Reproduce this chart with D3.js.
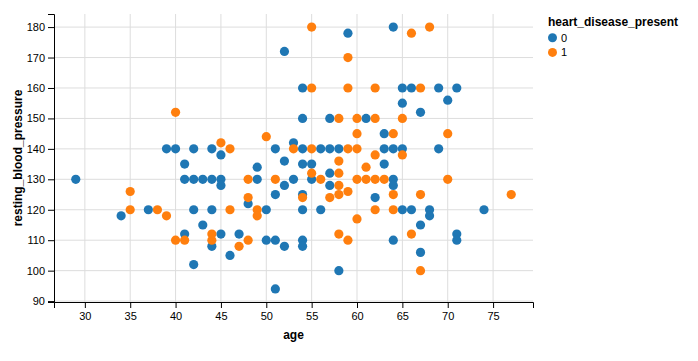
<!DOCTYPE html>
<html>
<head>
<meta charset="utf-8">
<script src="https://cdn.jsdelivr.net/npm/d3@7"></script>
<style>
  body { margin: 0; background: #fff; }
  svg { display: block; font-family: "Liberation Sans", Arial, sans-serif; }
  .grid line { stroke: #ddd; stroke-width: 1; }
</style>
</head>
<body>
<svg id="chart" width="698" height="361"></svg>
<script>
// ---- data ----
const ageBlue = [29,34,37,39,40,41,41,41,42,42,42,42,43,43,44,44,44,44,45,45,45,45,46,47,48,49,49,50,50,51,51,51,51,52,52,52,52,53,53,54,54,54,54,54,54,54,54,55,55,56,56,57,57,57,57,58,58,59,61,62,63,63,63,64,64,64,64,64,65,65,65,65,66,66,67,67,67,68,68,69,69,70,71,71,71,74];
const bpBlue  = [130,118,120,140,140,135,130,112,140,130,120,102,130,115,140,130,120,108,138,130,128,112,105,112,122,134,130,120,110,140,125,110,94,172,136,128,108,142,130,160,150,140,135,125,120,110,108,135,130,140,120,150,140,132,128,140,100,178,150,124,145,140,135,180,140,130,128,110,160,155,140,120,160,120,152,115,106,120,118,160,140,156,160,112,110,120];
const ageOrange = [35,35,38,39,40,40,41,44,44,45,46,46,47,48,48,48,49,49,50,51,53,54,55,55,55,55,56,57,58,58,58,58,58,58,59,59,59,59,59,60,60,60,60,60,61,61,62,62,62,62,62,63,64,64,64,65,65,66,66,67,67,67,68,70,70,77];
const bpOrange  = [126,120,120,118,152,110,110,112,110,142,140,120,108,130,124,110,120,118,144,130,140,124,180,160,140,132,130,124,150,136,132,128,125,112,170,160,140,126,110,150,145,140,130,117,134,130,160,150,138,130,120,130,145,125,120,150,138,178,112,160,125,100,180,145,130,125];
const classes = ["0", "1"];
const colors = ["#1f77b4", "#ff7f0e"];
const xTitle = "age";
const yTitle = "resting_blood_pressure";
const legendTitle = "heart_disease_present";

const points = [];
ageBlue.forEach((a, i) => points.push({age: a, bp: bpBlue[i], cls: "0"}));
ageOrange.forEach((a, i) => points.push({age: a, bp: bpOrange[i], cls: "1"}));

// ---- layout ----
const W = 698, H = 361;
const margin = {left: 54, top: 14, right: 165, bottom: 59};
const iw = W - margin.left - margin.right;
const ih = H - margin.top - margin.bottom;

const svg = d3.select("#chart");
const g = svg.append("g").attr("transform", `translate(${margin.left},${margin.top})`);

const allAge = points.map(d => d.age), allBp = points.map(d => d.bp);
const [aMin, aMax] = d3.extent(allAge), [bMin, bMax] = d3.extent(allBp);
const aPad = (aMax - aMin) * 0.05, bPad = (bMax - bMin) * 0.05;

const x = d3.scaleLinear().domain([aMin - aPad, aMax + aPad]).range([0, iw]);
const y = d3.scaleLinear().domain([bMin - bPad, bMax + bPad]).range([ih, 0]);
const color = d3.scaleOrdinal().domain(classes).range(colors);

// grid
g.append("g").attr("class", "grid")
  .selectAll("line.v").data(x.ticks()).join("line")
  .attr("x1", d => x(d)).attr("x2", d => x(d)).attr("y1", 0).attr("y2", ih);
g.append("g").attr("class", "grid")
  .selectAll("line.h").data(y.ticks()).join("line")
  .attr("y1", d => y(d)).attr("y2", d => y(d)).attr("x1", 0).attr("x2", iw);

// axes
const xAxis = g.append("g").attr("transform", `translate(0,${ih})`).call(d3.axisBottom(x).tickPadding(4));
const yAxis = g.append("g").call(d3.axisLeft(y));
[xAxis, yAxis].forEach(a => {
  a.selectAll("text").attr("font-size", 11).attr("fill", "#000").attr("font-family", "Liberation Sans, Arial, sans-serif");
  a.selectAll("path, line").attr("stroke", "#000");
});

// points
g.append("g").selectAll("circle").data(points).join("circle")
  .attr("cx", d => x(d.age)).attr("cy", d => y(d.bp)).attr("r", 4.6)
  .attr("fill", d => color(d.cls));

// titles
svg.append("text").attr("x", margin.left + iw / 2).attr("y", 339)
  .attr("text-anchor", "middle").attr("font-size", 12).attr("font-weight", "bold").text(xTitle);
svg.append("text").attr("transform", `translate(22,${margin.top + ih / 2}) rotate(-90)`)
  .attr("text-anchor", "middle").attr("font-size", 12).attr("font-weight", "bold").text(yTitle);

// legend
const lg = svg.append("g").attr("transform", "translate(548,0)");
lg.append("text").attr("x", 0).attr("y", 26).attr("font-size", 12).attr("font-weight", "bold").text(legendTitle);
const items = lg.selectAll("g.item").data(classes).join("g")
  .attr("transform", (d, i) => `translate(0,${37.7 + i * 14.7})`);
items.append("circle").attr("cx", 4.5).attr("cy", 0).attr("r", 4.5).attr("fill", d => color(d));
items.append("text").attr("x", 13).attr("y", 0).attr("dy", "0.35em").attr("font-size", 11).text(d => d);
</script>
</body>
</html>
